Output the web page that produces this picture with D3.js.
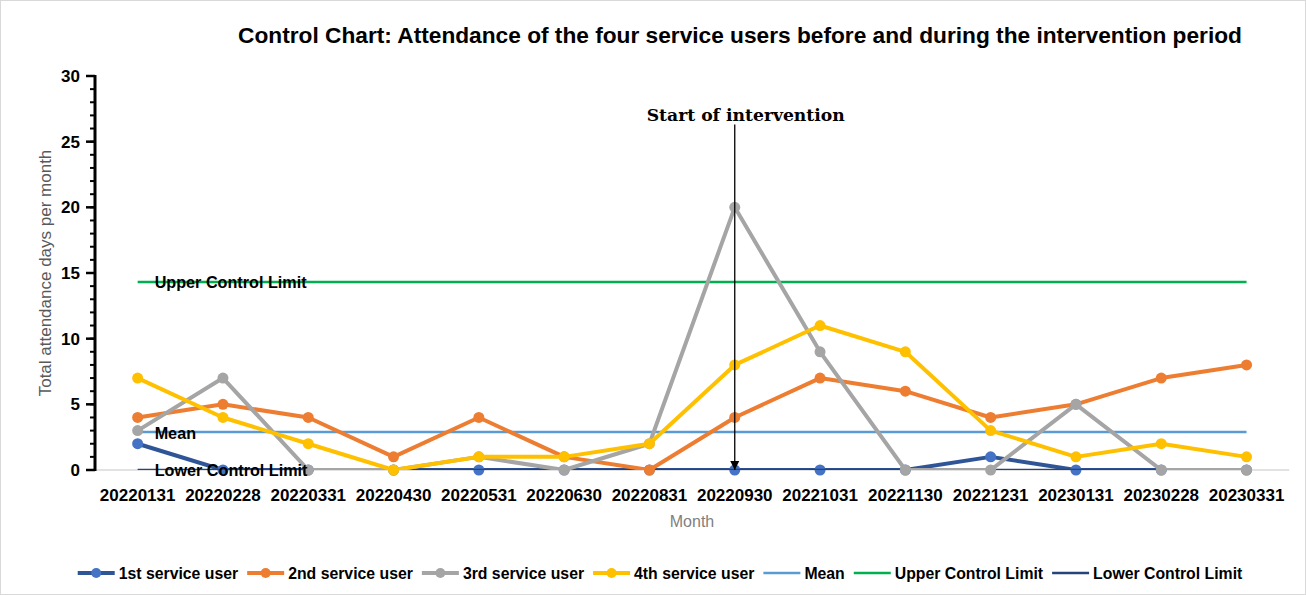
<!DOCTYPE html>
<html>
<head>
<meta charset="utf-8">
<script src="https://cdn.jsdelivr.net/npm/d3@7"></script>
<style>
  body { margin: 0; background: #fff; }
  text { font-family: "Liberation Sans", Arial, sans-serif; }
</style>
</head>
<body>
<svg id="chart"></svg>
<script>
var months = ["20220131", "20220228", "20220331", "20220430", "20220531", "20220630", "20220831",
              "20220930", "20221031", "20221130", "20221231", "20230131", "20230228", "20230331"];
var user1 = [2, 0, 0, 0, 0, 0, 0, 0, 0, 0, 1, 0, 0, 0];
var user2 = [4, 5, 4, 1, 4, 1, 0, 4, 7, 6, 4, 5, 7, 8];
var user3 = [3, 7, 0, 0, 1, 0, 2, 20, 9, 0, 0, 5, 0, 0];
var user4 = [7, 4, 2, 0, 1, 1, 2, 8, 11, 9, 3, 1, 2, 1];
var meanValue = 2.89;
var uclValue = 14.32;
var lclValue = 0;
var yTicks = [0, 5, 10, 15, 20, 25, 30];
var interventionMonth = "20220930";

var W = 1306, H = 595;
var margin = {top: 76, right: 16, bottom: 125, left: 95},
    width = W - margin.left - margin.right,
    height = H - margin.top - margin.bottom;

var root = d3.select("#chart").attr("width", W).attr("height", H);
root.append("rect")
    .attr("x", 0.5).attr("y", 0.5)
    .attr("width", W - 1).attr("height", H - 1)
    .attr("fill", "#fff").attr("stroke", "#d9d9d9");

var defs = root.append("defs");

var svg = root.append("g")
    .attr("transform", "translate(" + margin.left + "," + margin.top + ")");

var x = d3.scaleBand().domain(months).range([0, 14 * 85.3]);
var y = d3.scaleLinear().domain([0, 30]).range([height, 0]);
var cx = function(m) { return x(m) + x.bandwidth() / 2; };

// plot area clip (lines only, markers are not clipped)
defs.append("clipPath").attr("id", "plotclip")
    .append("rect")
    .attr("x", 0).attr("y", y(30) - 10)
    .attr("width", x.range()[1]).attr("height", y(0) - y(30) + 10);

// title
root.append("text")
    .attr("x", 740).attr("y", 43)
    .attr("text-anchor", "middle")
    .style("font-size", "22.7px").style("font-weight", "bold")
    .attr("fill", "#000")
    .text("Control Chart:  Attendance of the four service users before and during the intervention period");

// x axis baseline
svg.append("line")
    .attr("x1", 0).attr("x2", x.range()[1])
    .attr("y1", y(0)).attr("y2", y(0))
    .attr("stroke", "#d9d9d9").attr("stroke-width", 1.5);

svg.selectAll(".xlab").data(months).enter().append("text")
    .attr("x", cx).attr("y", y(0) + 31)
    .attr("text-anchor", "middle")
    .style("font-size", "17px").style("font-weight", "bold")
    .text(function(d) { return d; });

// y axis with minor ticks
var minor = d3.range(0, 31);
svg.selectAll(".minor").data(minor).enter().append("line")
    .attr("x1", -5).attr("x2", 0)
    .attr("y1", function(d) { return y(d); }).attr("y2", function(d) { return y(d); })
    .attr("stroke", "#000").attr("stroke-width", 2);
svg.selectAll(".major").data(yTicks).enter().append("line")
    .attr("x1", -9).attr("x2", 0)
    .attr("y1", function(d) { return y(d); }).attr("y2", function(d) { return y(d); })
    .attr("stroke", "#000").attr("stroke-width", 2.5);
svg.append("line")
    .attr("x1", 0).attr("x2", 0)
    .attr("y1", y(30) - 1).attr("y2", y(0) + 1)
    .attr("stroke", "#000").attr("stroke-width", 3);
svg.selectAll(".ylab").data(yTicks).enter().append("text")
    .attr("x", -15).attr("y", function(d) { return y(d); })
    .attr("dy", "0.35em")
    .attr("text-anchor", "end")
    .style("font-size", "17px").style("font-weight", "bold")
    .text(function(d) { return d; });

// axis titles
root.append("text")
    .attr("transform", "translate(51," + (margin.top + y(15)) + ") rotate(-90)")
    .attr("text-anchor", "middle")
    .attr("fill", "#595959")
    .style("font-size", "17px")
    .text("Total attendance days per month");
root.append("text")
    .attr("x", 692).attr("y", 527)
    .attr("text-anchor", "middle")
    .attr("fill", "#7f7f7f")
    .style("font-size", "16px")
    .text("Month");

// control lines
var x0 = cx(months[0]), x1 = cx(months[months.length - 1]);
var ctrl = [
    {v: meanValue, c: "#5b9bd5", label: "Mean"},
    {v: uclValue, c: "#00b050", label: "Upper Control Limit"},
    {v: lclValue, c: "#264478", label: "Lower Control Limit"}
];

var series = [
    {name: "1st service user", vals: user1, line: "#2f5597", dot: "#4472c4"},
    {name: "2nd service user", vals: user2, line: "#ed7d31", dot: "#ed7d31"},
    {name: "3rd service user", vals: user3, line: "#a5a5a5", dot: "#a5a5a5"},
    {name: "4th service user", vals: user4, line: "#ffc000", dot: "#ffc000"}
];

var line = d3.line()
    .x(function(d, i) { return cx(months[i]); })
    .y(function(d) { return y(d); });

function drawSeries(s) {
    svg.append("path")
        .datum(s.vals)
        .attr("clip-path", "url(#plotclip)")
        .attr("fill", "none")
        .attr("stroke", s.line)
        .attr("stroke-width", 4)
        .attr("stroke-linejoin", "round")
        .attr("d", line);
    svg.selectAll(null).data(s.vals).enter().append("circle")
        .attr("cx", function(d, i) { return cx(months[i]); })
        .attr("cy", function(d) { return y(d); })
        .attr("r", 5.5)
        .attr("fill", s.dot);
}

drawSeries(series[0]);
ctrl.forEach(function(c) {
    svg.append("line")
        .attr("clip-path", "url(#plotclip)")
        .attr("x1", x0).attr("x2", x1)
        .attr("y1", y(c.v)).attr("y2", y(c.v))
        .attr("stroke", c.c).attr("stroke-width", 2.5);
});
series.slice(1).forEach(drawSeries);

ctrl.forEach(function(c) {
    svg.append("text")
        .attr("x", x0 + 17).attr("y", y(c.v))
        .attr("dy", "0.4em")
        .style("font-size", "16.2px").style("font-weight", "bold")
        .attr("fill", "#000")
        .text(c.label);
});

// intervention arrow
var ax = cx(interventionMonth);
defs.append("marker")
    .attr("id", "arrow")
    .attr("viewBox", "0 0 10 10")
    .attr("refX", 10).attr("refY", 5)
    .attr("markerWidth", 9).attr("markerHeight", 13)
    .attr("markerUnits", "userSpaceOnUse")
    .attr("orient", "auto")
    .append("path").attr("d", "M0,0 L10,5 L0,10 z").attr("fill", "#000");
svg.append("line")
    .attr("x1", ax).attr("x2", ax)
    .attr("y1", y(26.3)).attr("y2", y(0))
    .attr("stroke", "#000").attr("stroke-width", 1.3)
    .attr("marker-end", "url(#arrow)");
svg.append("text")
    .attr("x", ax + 11).attr("y", y(26.6))
    .attr("text-anchor", "middle")
    .style("font-family", "'DejaVu Serif', 'Liberation Serif', serif")
    .style("font-size", "17.2px").style("font-weight", "bold")
    .text("Start of intervention");

// legend
var legendItems = series.map(function(s) { return {name: s.name, c: s.line, dot: s.dot}; })
    .concat(ctrl.map(function(c) { return {name: c.label, c: c.c, dot: null}; }));
var lg = root.append("g");
var lx = 0;
legendItems.forEach(function(it) {
    var g = lg.append("g").attr("transform", "translate(" + lx + ",0)");
    g.append("line").attr("x1", 0).attr("x2", 37).attr("y1", 0).attr("y2", 0)
        .attr("stroke", it.c).attr("stroke-width", it.dot ? 4 : 2.5);
    if (it.dot) g.append("circle").attr("cx", 18.5).attr("cy", 0).attr("r", 5).attr("fill", it.dot);
    var t = g.append("text").attr("x", 41).attr("y", 0).attr("dy", "0.36em")
        .style("font-size", "15.8px").style("font-weight", "bold")
        .text(it.name);
    lx += 41 + t.node().getComputedTextLength() + 9;
});
lg.attr("transform", "translate(" + (660 - (lx - 9) / 2) + ",573)");
</script>
</body>
</html>
